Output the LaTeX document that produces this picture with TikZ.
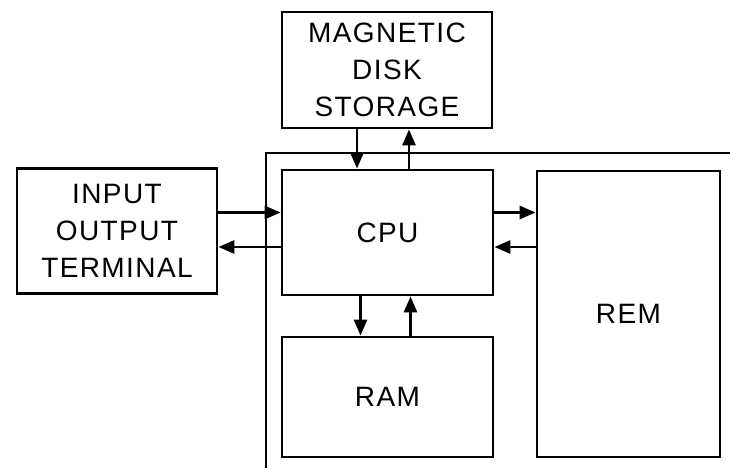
\documentclass[tikz,border=0pt]{standalone}
\usepackage{fontspec}
\setmainfont{Liberation Sans}[LetterSpace=5]
\usetikzlibrary{arrows.meta}
\begin{document}
\begin{tikzpicture}[x=1pt,y=-1pt,
  blk/.style={draw,line width=2.8pt,rectangle,inner sep=0pt,align=center,
    font=\fontsize{28}{37}\selectfont},
  arr/.style={line width=2.8pt,-{Triangle[length=16pt,width=13pt]}},
  frame/.style={line width=2.8pt}]
\useasboundingbox (0,0) rectangle (730,468);
\node[blk,minimum width=210pt,minimum height=116pt] (mag) at (387,70) {MAGNETIC\\DISK\\STORAGE};
\node[blk,minimum width=200pt,minimum height=125pt] (io) at (117,231) {INPUT\\OUTPUT\\TERMINAL};
\node[blk,minimum width=211pt,minimum height=125pt] (cpu) at (387.5,232.5) {CPU};
\node[blk,minimum width=211pt,minimum height=120pt] (ram) at (387.5,397) {RAM};
\node[blk,minimum width=183pt,minimum height=286pt] (rem) at (628.5,314) {REM};
\coordinate (fb) at (266,468);
\coordinate (fc) at (266,153);
\coordinate (fr) at (730,153);
\draw[frame] (fb) -- (fc) -- (fr);
% magnetic <-> cpu
\draw[arr] ([xshift=-30pt]mag.south) -- ([xshift=-30pt]mag.south |- cpu.north);
\draw[arr] ([xshift=22pt]mag.south |- cpu.north) -- ([xshift=22pt]mag.south);
% cpu <-> ram
\draw[arr] ([xshift=-27pt]cpu.south) -- ([xshift=-27pt]ram.north);
\draw[arr] ([xshift=23pt]ram.north) -- ([xshift=23pt]cpu.south);
% io <-> cpu
\draw[arr] ([yshift=20pt]cpu.west -| io.east) -- ([yshift=20pt]cpu.west);
\draw[arr] ([yshift=-14.5pt]cpu.west) -- ([yshift=-14.5pt]cpu.west -| io.east);
% cpu <-> rem
\draw[arr] ([yshift=20pt]cpu.east) -- ([yshift=20pt]cpu.east -| rem.west);
\draw[arr] ([yshift=-14.5pt]cpu.east -| rem.west) -- ([yshift=-14.5pt]cpu.east);
\end{tikzpicture}
\end{document}
